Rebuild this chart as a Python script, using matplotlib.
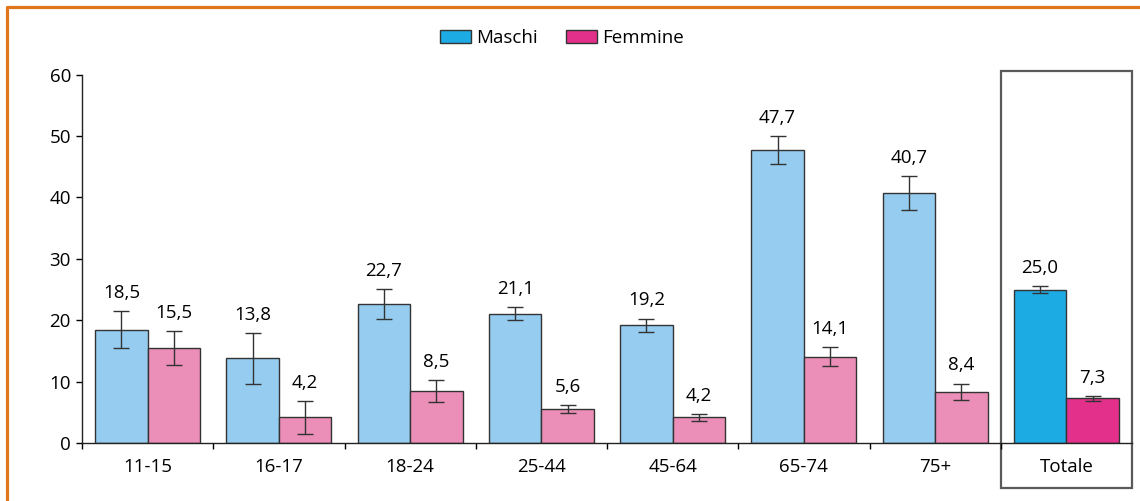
import matplotlib
matplotlib.use("Agg")
import matplotlib.pyplot as plt
import matplotlib.transforms as mtransforms
from matplotlib.patches import Rectangle, Patch
from matplotlib.lines import Line2D
import numpy as np

plt.rcParams['font.family'] = ['Open Sans', 'DejaVu Sans']

categories = ["11-15", "16-17", "18-24", "25-44", "45-64", "65-74", "75+", "Totale"]
maschi = [18.5, 13.8, 22.7, 21.1, 19.2, 47.7, 40.7, 25.0]
femmine = [15.5, 4.2, 8.5, 5.6, 4.2, 14.1, 8.4, 7.3]
maschi_err = [3.0, 4.1, 2.4, 1.0, 1.1, 2.3, 2.8, 0.6]
femmine_err = [2.7, 2.7, 1.8, 0.6, 0.6, 1.6, 1.3, 0.4]
labels_series = ["Maschi", "Femmine"]

c_m_light = "#95CCEF"
c_f_light = "#EC8FB8"
c_m_dark = "#1DABE3"
c_f_dark = "#E3318B"

FS = 13.5

W, H = 1140, 501
fig = plt.figure(figsize=(W / 100, H / 100), dpi=100)
ax = fig.add_axes([82 / W, (H - 443.3) / H, (1132 - 82) / W, (443.3 - 74.5) / H])

x = np.arange(len(categories))
bw = 0.4
m_colors = [c_m_light] * (len(categories) - 1) + [c_m_dark]
f_colors = [c_f_light] * (len(categories) - 1) + [c_f_dark]

err_kw = dict(ecolor="#333333", elinewidth=1.0, capsize=5.5, capthick=1.0)
ax.bar(x - bw / 2, maschi, bw, color=m_colors, edgecolor="#333333", linewidth=1.0,
       yerr=maschi_err, error_kw=err_kw, zorder=2)
ax.bar(x + bw / 2, femmine, bw, color=f_colors, edgecolor="#333333", linewidth=1.0,
       yerr=femmine_err, error_kw=err_kw, zorder=2)

for xi, v, e in zip(x - bw / 2, maschi, maschi_err):
    ax.annotate(f"{v:.1f}".replace(".", ","), (xi, v + e), xytext=(0, 9.5),
                textcoords="offset points", ha="center", va="baseline", fontsize=FS)
for xi, v, e in zip(x + bw / 2, femmine, femmine_err):
    ax.annotate(f"{v:.1f}".replace(".", ","), (xi, v + e), xytext=(0, 9.5),
                textcoords="offset points", ha="center", va="baseline", fontsize=FS)

ax.set_xlim(-0.5, len(categories) - 0.5)
ax.set_ylim(0, 60)
ax.set_yticks([0, 10, 20, 30, 40, 50, 60])
ax.tick_params(axis="y", labelsize=FS, length=4, width=1, pad=4, direction="out")
ax.set_xticks(x)
ax.set_xticklabels(categories)
ax.tick_params(axis="x", which="major", length=0, labelsize=FS, pad=10.5)
ax.set_xticks(np.arange(-0.5, len(categories) - 0.5, 1.0), minor=True)
ax.tick_params(axis="x", which="minor", length=4, width=1, direction="out")
for s in ["top", "right"]:
    ax.spines[s].set_visible(False)
for s in ["left", "bottom"]:
    ax.spines[s].set_linewidth(1.0)
    ax.spines[s].set_color("#222222")

# Box around Totale
trans = mtransforms.blended_transform_factory(ax.transData, ax.transAxes)
ax.add_patch(Rectangle((6.5, -0.120), 1.0, 1.010 + 0.120, transform=trans, fill=False,
                       edgecolor="#5a5a5a", linewidth=1.6, clip_on=False, zorder=1))

# Legend
handles = [Patch(facecolor=c_m_dark, edgecolor="#333333", linewidth=1.0),
           Patch(facecolor=c_f_dark, edgecolor="#333333", linewidth=1.0)]
fig.legend(handles, labels_series, loc="center", bbox_to_anchor=(562 / W, 1 - 38 / H),
           ncol=2, frameon=False, fontsize=FS, handlelength=1.65, handleheight=0.65,
           handletextpad=0.3, columnspacing=1.5)

# Orange border (top and left)
fig.add_artist(Line2D([7.3 / W, 7.3 / W, 1.0], [0.0, 1 - 7.3 / H, 1 - 7.3 / H],
                      transform=fig.transFigure, color="#E0761A", linewidth=2.3))

fig.savefig("out.png", dpi=100)
